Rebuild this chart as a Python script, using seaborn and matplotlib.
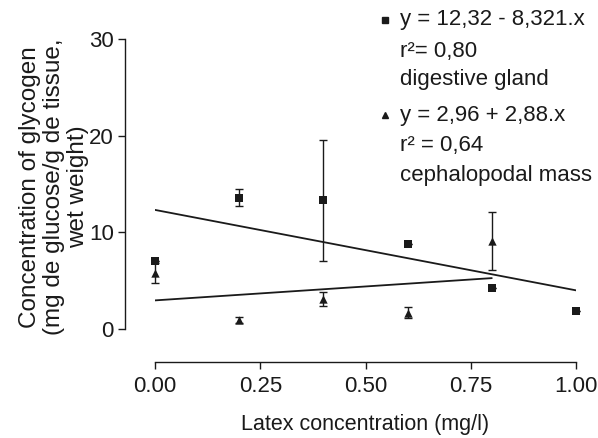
import matplotlib
matplotlib.use("Agg")
import matplotlib.pyplot as plt
from matplotlib.lines import Line2D
import numpy as np
import pandas as pd
import seaborn as sns

# ---- data ----
latex = [0.0, 0.2, 0.4, 0.6, 0.8, 1.0]
gland_mean = [7.0, 13.6, 13.3, 8.8, 4.2, 1.9]
gland_err = [0.0, 0.9, 6.3, 0.0, 0.0, 0.0]
latex_ceph = [0.0, 0.2, 0.4, 0.6, 0.8]
ceph_mean = [5.8, 0.9, 3.1, 1.7, 9.1]
ceph_err = [1.0, 0.3, 0.7, 0.6, 3.0]
gland_fit = (12.32, -8.321)   # intercept, slope
ceph_fit = (2.96, 2.88)
gland_range = [0.0, 1.0]
ceph_range = [0.0, 0.8]
xticks = [0.0, 0.25, 0.5, 0.75, 1.0]
xticklabels = ["0.00", "0.25", "0.50", "0.75", "1.00"]
yticks = [0, 10, 20, 30]
legend_gland = ["y = 12,32 - 8,321.x", "r²= 0,80", "digestive gland"]
legend_ceph = ["y = 2,96 + 2,88.x", "r² = 0,64", "cephalopodal mass"]

sns.set_style("ticks")
plt.rcParams['font.family'] = ['Liberation Sans', 'DejaVu Sans']

W, H = 598, 438
fig = plt.figure(figsize=(W / 100, H / 100), dpi=100)
ax = fig.add_axes([155 / W, (H - 329) / H, 421 / W, 290 / H])

dark = "#1a1a1a"
fs_tick = 16
fs_lab = 15.5
fs_leg = 16

# regression lines
gx = np.array(gland_range)
cx = np.array(ceph_range)
sns.lineplot(x=gx, y=gland_fit[0] + gland_fit[1] * gx, ax=ax, color=dark, lw=1.3)
sns.lineplot(x=cx, y=ceph_fit[0] + ceph_fit[1] * cx, ax=ax, color=dark, lw=1.3)

# error bars
ax.errorbar(latex, gland_mean, yerr=gland_err, fmt="none", ecolor=dark,
            elinewidth=1.0, capsize=3, capthick=1.0, clip_on=False)
ax.errorbar(latex_ceph, ceph_mean, yerr=ceph_err, fmt="none", ecolor=dark,
            elinewidth=1.0, capsize=3, capthick=1.0, clip_on=False)

# points
sns.scatterplot(x=latex, y=gland_mean, marker="s", s=32, color=dark,
                edgecolor=dark, linewidth=0, ax=ax, clip_on=False, zorder=5)
sns.scatterplot(x=latex_ceph, y=ceph_mean, marker="^", s=36, color=dark,
                edgecolor=dark, linewidth=0, ax=ax, clip_on=False, zorder=5)

ax.set_xlim(0, 1)
ax.set_ylim(0, 30)
ax.set_xticks(xticks)
ax.set_xticklabels(xticklabels)
ax.set_yticks(yticks)
for s in ["top", "right"]:
    ax.spines[s].set_visible(False)
ax.spines["left"].set_position(("outward", 21.6))
ax.spines["bottom"].set_position(("outward", 23.8))
for s in ["left", "bottom"]:
    ax.spines[s].set_color(dark)
    ax.spines[s].set_linewidth(1.0)
ax.tick_params(axis="both", direction="out", length=5, width=1.0,
               colors=dark, labelsize=fs_tick, pad=3)
ax.tick_params(axis="x", pad=5)

ax.set_xlabel("Latex concentration (mg/l)", fontsize=fs_lab, color=dark, labelpad=12)
ax.set_ylabel("Concentration of glycogen\n(mg de glucose/g de tissue,\nwet weight)",
              fontsize=17.5, color=dark, labelpad=0, linespacing=1.12)
ax.yaxis.label.set_y(0.49)

# custom legend text
def block(lines, y0, marker):
    fig.add_artist(Line2D([385 / W], [1 - y0 / H], marker=marker, color=dark,
                          markersize=4.5, linestyle="none",
                          transform=fig.transFigure))
    ys = [y0, y0 + 31, y0 + 60]
    for t, y in zip(lines, ys):
        fig.text(400 / W, 1 - y / H, t, fontsize=fs_leg, color=dark,
                 va="center", ha="left")

block(legend_gland, 20, "s")
block(legend_ceph, 115, "^")

fig.savefig("out.png", dpi=100)
